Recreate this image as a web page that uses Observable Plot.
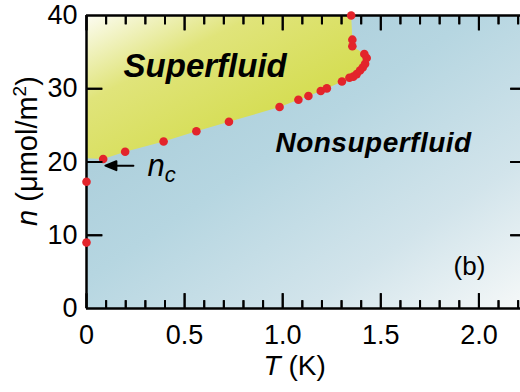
<!DOCTYPE html>
<html><head><meta charset="utf-8">
<script src="https://cdn.jsdelivr.net/npm/d3@7"></script>
<script src="https://cdn.jsdelivr.net/npm/@observablehq/plot@0.6"></script>
<style>
html,body{margin:0;padding:0;background:#fff;}
</style>
</head><body><div id="chart"></div>
<script>
// ---- data ----
const temperatureK = [0, 0, 0.085, 0.197, 0.393, 0.56, 0.726, 0.984, 1.08, 1.131, 1.194, 1.225, 1.302, 1.34, 1.36, 1.377, 1.394, 1.408, 1.42, 1.428, 1.416, 1.355, 1.355, 1.349];
const densityN   = [9.0, 17.3, 20.4, 21.4, 22.8, 24.2, 25.5, 27.5, 28.5, 29.0, 29.7, 30.05, 31.0, 31.5, 31.65, 32.0, 32.5, 32.9, 33.4, 34.2, 34.75, 35.8, 36.7, 40.0];
const criticalDensity = 20.5;   // n_c at T = 0
const tDomain = [0, 2.212];
const nDomain = [0, 40];
const xLabelTicks = [0, 0.5, 1.0, 1.5, 2.0];
const xMinorTicks = [0.1, 0.2, 0.3, 0.4, 0.6, 0.7, 0.8, 0.9, 1.1, 1.2, 1.3, 1.4, 1.6, 1.7, 1.8, 1.9, 2.1, 2.2];
const yLabelTicks = [0, 10, 20, 30, 40];
const ySideTicks = [10, 20, 30];

const points = temperatureK.map((t, i) => ({T: t, n: densityN[i]}));
// superfluid region: top-left corner, n_c on the axis, then the measured boundary
const superfluidRegion = [
  {T: tDomain[0], n: nDomain[1]},
  {T: tDomain[0], n: criticalDensity},
  ...points.filter(p => p.T > 0 && p.n >= criticalDensity - 0.2)
];

// layout
const W = 520, H = 392, ML = 86, MR = 0, MT = 15, MB = 84;
const FW = W - ML - MR, FH = H - MT - MB;
const perPxY = (nDomain[1] - nDomain[0]) / FH;   // data units per pixel
const perPxX = (tDomain[1] - tDomain[0]) / FW;
const FONT = "'Liberation Sans', Arial, Helvetica, sans-serif";
const arrowShape = {draw(ctx, l) {
  ctx.moveTo(0, 0); ctx.lineTo(0, -l + 8);
  ctx.moveTo(0, -l); ctx.lineTo(-4.5, -l + 11); ctx.lineTo(4.5, -l + 11); ctx.closePath();
}};

const n0 = nDomain[0], n1 = nDomain[1], t0 = tDomain[0], t1 = tDomain[1];
// inward tick segments (bottom, top, left, right), lengths given in pixels
const tickSegments = [
  ...xLabelTicks.map(v => ({x1: v, x2: v, y1: n0, y2: n0 + 15 * perPxY})),
  ...xMinorTicks.map(v => ({x1: v, x2: v, y1: n0, y2: n0 + 8 * perPxY})),
  ...xLabelTicks.map(v => ({x1: v, x2: v, y1: n1, y2: n1 - 15 * perPxY})),
  ...xMinorTicks.map(v => ({x1: v, x2: v, y1: n1, y2: n1 - 9 * perPxY})),
  ...ySideTicks.map(v => ({x1: t0, x2: t0 + 16 * perPxX, y1: v, y2: v})),
  ...ySideTicks.map(v => ({x1: t1, x2: t1 - 10 * perPxX, y1: v, y2: v}))
];

function gradients() {
  const defs = d3.create("svg:defs");
  const b = defs.append("linearGradient").attr("id", "gradBlue")
    .attr("x1", 0).attr("y1", 0).attr("x2", 1).attr("y2", 1);
  [[0, "#a2c7d5"], [0.45, "#b6d6e1"], [0.75, "#d2e4eb"], [1, "#f5f8f8"]]
    .forEach(([o, c]) => b.append("stop").attr("offset", o).attr("stop-color", c));
  const y = defs.append("linearGradient").attr("id", "gradYellow")
    .attr("x1", 0).attr("y1", 0).attr("x2", 0.75).attr("y2", 0.75);
  [[0, "#fcfcf2"], [0.4, "#e0e47a"], [1, "#d3dc4c"]]
    .forEach(([o, c]) => y.append("stop").attr("offset", o).attr("stop-color", c));
  return defs.node();
}

const tickStyle = {stroke: "#111", strokeWidth: 2};

const plot = Plot.plot({
  width: W, height: H,
  marginLeft: ML, marginRight: MR, marginTop: MT, marginBottom: MB,
  style: {fontFamily: FONT, color: "black", background: "white", overflow: "visible"},
  x: {domain: tDomain, axis: null},
  y: {domain: nDomain, axis: null},
  marks: [
    gradients,
    Plot.frame({fill: "url(#gradBlue)", stroke: "none"}),
    Plot.line(superfluidRegion, {x: "T", y: "n", fill: "url(#gradYellow)", stroke: "none"}),
    Plot.axisX(xLabelTicks, {tickSize: 0, tickPadding: 16, fontSize: 27, label: null,
      tickFormat: d => d === 0 ? "0" : d.toFixed(1)}),
    Plot.axisY(yLabelTicks, {tickSize: 0, tickPadding: 9, fontSize: 27, label: null, tickFormat: d => String(d)}),
    Plot.text(["T (K)"], {frameAnchor: "bottom", textAnchor: "start", dx: -40, dy: 66, fontSize: 28}),
    Plot.text(["n (μmol/m2)"], {frameAnchor: "left", textAnchor: "middle", rotate: -90, dx: -59, dy: -11, fontSize: 29}),
    Plot.text(["Superfluid"], {x: 0.189, y: 33.1, textAnchor: "start", fontSize: 33, fontWeight: "bold", fontStyle: "italic"}),
    Plot.text(["Nonsuperfluid"], {x: 0.963, y: 22.55, textAnchor: "start", fontSize: 28, fontWeight: "bold", fontStyle: "italic"}),
    Plot.text(["(b)"], {x: 1.952, y: 5.76, textAnchor: "middle", fontSize: 26}),
    Plot.text(["nc"], {x: 0.311, y: 19.44, textAnchor: "start", fontSize: 31}),
    Plot.vector([criticalDensity], {x: 0.239, y: 19.5, length: 28, rotate: -90, anchor: "start", shape: arrowShape, stroke: "black", fill: "black", strokeWidth: 2}),
    // axis lines
    Plot.ruleX([t0], {stroke: "black", strokeWidth: 2.5}),
    Plot.ruleY([n0, n1], {stroke: "black", strokeWidth: 2.5}),
    // inward ticks
    Plot.ruleX(xLabelTicks, {x: d => d, y1: n0, y2: n0 + 15 * perPxY, ...tickStyle}),
    Plot.ruleX(xMinorTicks, {x: d => d, y1: n0, y2: n0 + 8 * perPxY, ...tickStyle}),
    Plot.ruleX(xLabelTicks, {x: d => d, y1: n1, y2: n1 - 15 * perPxY, ...tickStyle}),
    Plot.ruleX(xMinorTicks, {x: d => d, y1: n1, y2: n1 - 9 * perPxY, ...tickStyle}),
    Plot.ruleY(ySideTicks, {y: d => d, x1: t0, x2: t0 + 16 * perPxX, ...tickStyle}),
    Plot.ruleY(ySideTicks, {y: d => d, x1: t1, x2: t1 - 10 * perPxX, ...tickStyle}),
    // measured points
    Plot.dot(points, {x: "T", y: "n", r: 4.3, fill: "#e3242b", stroke: "none"}),
    // tick segments again as paths, on top
    Plot.link(tickSegments, {x1: "x1", y1: "y1", x2: "x2", y2: "y2", stroke: "black", strokeWidth: 2})
  ]
});

// rich text (italic symbols, sub/superscripts)
function rich(el, parts) {
  el.textContent = "";
  for (const p of parts) {
    const ts = document.createElementNS("http://www.w3.org/2000/svg", "tspan");
    ts.textContent = p.t;
    if (p.italic) ts.setAttribute("font-style", "italic");
    if (p.size) ts.setAttribute("font-size", p.size);
    if (p.dy) ts.setAttribute("dy", p.dy);
    el.appendChild(ts);
  }
}
plot.querySelectorAll("text").forEach(el => {
  const s = el.textContent;
  if (s === "T (K)") rich(el, [{t: "T", italic: true}, {t: " (K)"}]);
  else if (s === "n (μmol/m2)") rich(el, [{t: "n", italic: true}, {t: " (μmol/m"}, {t: "2", size: 19, dy: -11}, {t: ")", size: 29, dy: 11}]);
  else if (s === "nc") rich(el, [{t: "n", italic: true}, {t: "c", italic: true, size: 22, dy: 6}]);
  else if (s === "Nonsuperfluid") el.setAttribute("letter-spacing", "0.5");
});
document.getElementById("chart").appendChild(plot);
</script>
</body></html>
